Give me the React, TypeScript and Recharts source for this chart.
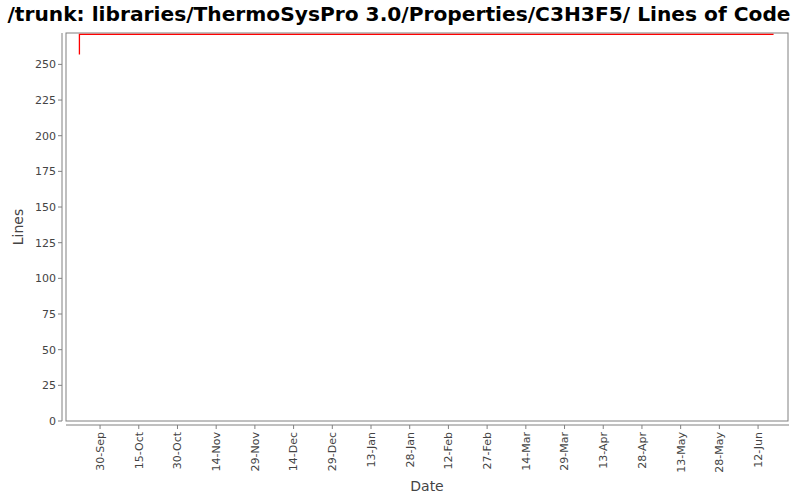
import React from "react";
import { LineChart, Line, XAxis, YAxis, usePlotArea } from "recharts";

// commit dates and line counts
const dates = ["2009-09-22", "2009-09-22", "2010-06-18"];
const lines = [257, 271, 271];

const tickDates = [
  "2009-09-30", "2009-10-15", "2009-10-30", "2009-11-14", "2009-11-29",
  "2009-12-14", "2009-12-29", "2010-01-13", "2010-01-28", "2010-02-12",
  "2010-02-27", "2010-03-14", "2010-03-29", "2010-04-13", "2010-04-28",
  "2010-05-13", "2010-05-28", "2010-06-12",
];
const yTicks = [0, 25, 50, 75, 100, 125, 150, 175, 200, 225, 250];

const MONTHS = ["Jan", "Feb", "Mar", "Apr", "May", "Jun", "Jul", "Aug", "Sep", "Oct", "Nov", "Dec"];
const DAY = 86400000;
const BASE = Date.UTC(2009, 8, 30);
const toDay = (s: string) => {
  const [y, m, d] = s.split("-").map(Number);
  return (Date.UTC(y, m - 1, d) - BASE) / DAY;
};
const fmt = (day: number) => {
  const d = new Date(BASE + Math.round(day) * DAY);
  return `${d.getUTCDate()}-${MONTHS[d.getUTCMonth()]}`;
};

const data = dates.map((d, i) => ({ day: toDay(d), lines: lines[i] }));
const xTicks = tickDates.map(toDay);

const FONT = '"DejaVu Sans", sans-serif';
const AXIS = "#808080";
const TEXT = "#444444";

const XTick = (props: any) => {
  const { x, y, payload } = props;
  return (
    <g>
      <line x1={x} x2={x} y1={y + 4} y2={y + 8} stroke={AXIS} />
      <text
        transform={`translate(${x},${y + 11}) rotate(-90)`}
        textAnchor="end"
        dy="0.35em"
        fontSize={11}
        fontFamily={FONT}
        fill={TEXT}
      >
        {fmt(payload.value)}
      </text>
    </g>
  );
};

const YTick = (props: any) => {
  const { x, y, payload } = props;
  return (
    <g>
      <line x1={x - 8} x2={x - 4} y1={y} y2={y} stroke={AXIS} />
      <text x={x - 10} y={y} dy="0.35em" textAnchor="end" fontSize={11} fontFamily={FONT} fill={TEXT}>
        {payload.value}
      </text>
    </g>
  );
};

const Frame = () => {
  const p = usePlotArea();
  if (!p) return null;
  const bottom = p.y + p.height;
  return (
    <g>
      <rect x={p.x} y={p.y} width={p.width} height={p.height} fill="none" stroke={AXIS} />
      <line x1={p.x - 4} x2={p.x - 4} y1={p.y} y2={bottom} stroke={AXIS} />
      <line x1={p.x} x2={p.x + p.width + 1} y1={bottom + 4} y2={bottom + 4} stroke={AXIS} />
      <text x={399} y={21} textAnchor="middle" fontSize={20.2} fontWeight="bold" fontFamily={FONT} fill="#000">
        /trunk: libraries/ThermoSysPro 3.0/Properties/C3H3F5/ Lines of Code
      </text>
      <text
        transform={`translate(23,${p.y + p.height / 2}) rotate(-90)`}
        textAnchor="middle"
        fontSize={14}
        fontFamily={FONT}
        fill={TEXT}
      >
        Lines
      </text>
      <text x={p.x + p.width / 2} y={491} textAnchor="middle" fontSize={14} fontFamily={FONT} fill={TEXT}>
        Date
      </text>
    </g>
  );
};

export default function App() {
  return (
    <div style={{ position: "absolute", left: 0, top: 0, width: 800, height: 500, background: "#fff" }}>
      <LineChart width={800} height={500} data={data} margin={{ top: 33, right: 12, bottom: 0, left: 0 }}>
        <XAxis
          dataKey="day"
          type="number"
          domain={[-13.2, 266.6]}
          ticks={xTicks}
          interval={0}
          height={79}
          axisLine={false}
          tickLine={false}
          tickSize={0}
          tickMargin={0}
          tick={<XTick />}
        />
        <YAxis
          type="number"
          domain={[0, 272]}
          ticks={yTicks}
          interval={0}
          width={66}
          axisLine={false}
          tickLine={false}
          tickSize={0}
          tickMargin={0}
          tick={<YTick />}
        />
        <Line
          type="stepAfter"
          dataKey="lines"
          stroke="#ff0000"
          strokeWidth={1.3}
          dot={false}
          isAnimationActive={false}
        />
        <Frame />
      </LineChart>
    </div>
  );
}
